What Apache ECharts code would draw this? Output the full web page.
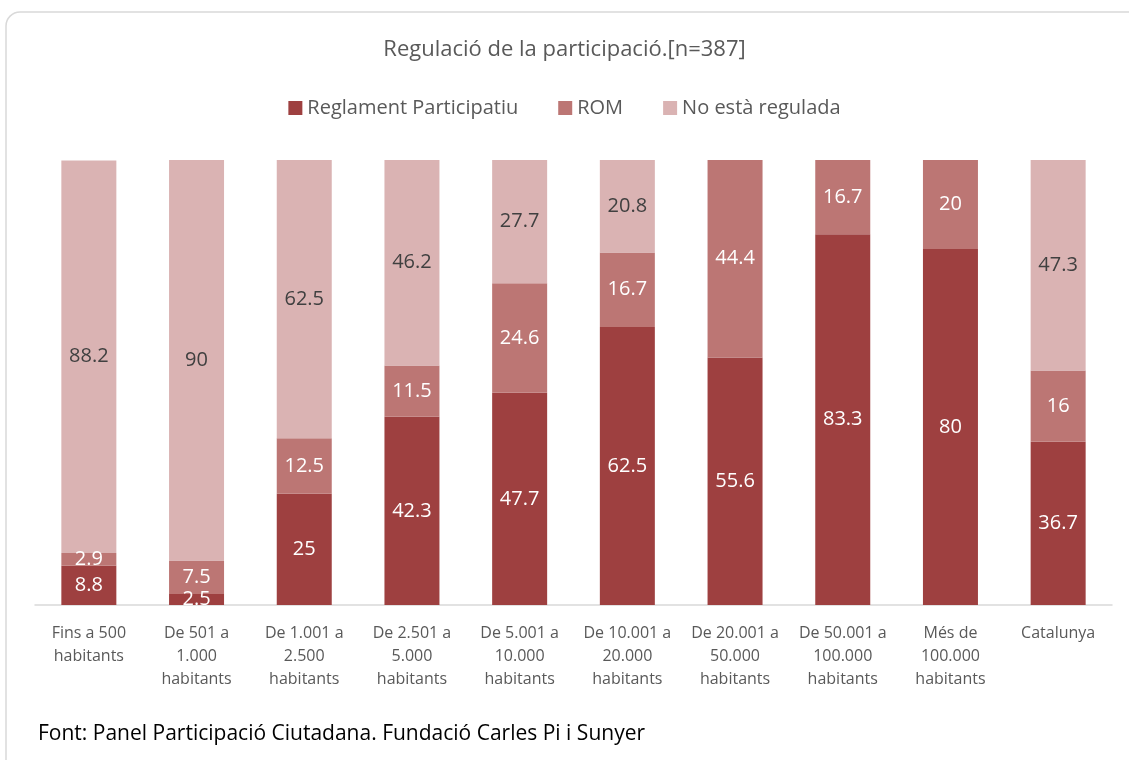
<!DOCTYPE html>
<html>
<head>
<meta charset="utf-8">
<script src="https://cdn.jsdelivr.net/npm/echarts@6/dist/echarts.min.js"></script>
<style>
  html, body { margin: 0; padding: 0; background: #fff; }
  #chart { width: 1129px; height: 760px; }
</style>
</head>
<body>
<div id="chart"></div>
<script>
// dades del gràfic
var categories = [
  'Fins a 500\nhabitants',
  'De 501 a\n1.000\nhabitants',
  'De 1.001 a\n2.500\nhabitants',
  'De 2.501 a\n5.000\nhabitants',
  'De 5.001 a\n10.000\nhabitants',
  'De 10.001 a\n20.000\nhabitants',
  'De 20.001 a\n50.000\nhabitants',
  'De 50.001 a\n100.000\nhabitants',
  'Més de\n100.000\nhabitants',
  'Catalunya'
];
var reglament = [8.8, 2.5, 25, 42.3, 47.7, 62.5, 55.6, 83.3, 80, 36.7];
var rom = [2.9, 7.5, 12.5, 11.5, 24.6, 16.7, 44.4, 16.7, 20, 16];
var noRegulada = [88.2, 90, 62.5, 46.2, 27.7, 20.8, null, null, null, 47.3];

var fontFam = '"Open Sans", "Noto Sans", sans-serif';

var chart = echarts.init(document.getElementById('chart'));

function serie(name, data, color, labelColor) {
  return {
    name: name,
    type: 'bar',
    stack: 'total',
    barWidth: 55,
    data: data,
    itemStyle: { color: color },
    label: {
      show: true,
      position: 'inside',
      color: labelColor,
      fontFamily: fontFam,
      fontSize: 20
    }
  };
}

var option = {
  animation: false,
  title: {
    text: 'Regulació de la participació.[n=387]',
    left: 'center',
    top: 34,
    textStyle: { color: '#595959', fontSize: 22, fontWeight: 'normal', fontFamily: fontFam }
  },
  legend: {
    top: 93,
    left: 'center',
    itemWidth: 14,
    itemHeight: 14,
    itemGap: 40,
    icon: 'rect',
    textStyle: { color: '#595959', fontSize: 20, fontFamily: fontFam },
    data: ['Reglament Participatiu', 'ROM', 'No està regulada']
  },
  grid: { left: 35, right: 17, top: 160, bottom: 155 },
  xAxis: {
    type: 'category',
    data: categories,
    axisLine: { lineStyle: { color: '#d9d9d9', width: 1.5 } },
    axisTick: { show: false },
    axisLabel: {
      interval: 0,
      margin: 17,
      color: '#595959',
      fontSize: 16,
      lineHeight: 23,
      fontFamily: fontFam
    }
  },
  yAxis: {
    type: 'value',
    min: 0,
    max: 100,
    show: false
  },
  graphic: [
    {
      type: 'rect',
      shape: { x: 6, y: 12, width: 1140, height: 780, r: 14 },
      style: { fill: null, stroke: '#d9d9d9', lineWidth: 1.5 },
      silent: true
    },
    {
      type: 'text',
      left: 38,
      top: 724,
      style: {
        text: 'Font: Panel Participació Ciutadana. Fundació Carles Pi i Sunyer',
        fill: '#000',
        fontSize: 21,
        fontFamily: fontFam
      }
    }
  ],
  series: [
    serie('Reglament Participatiu', reglament, '#9e4040', '#fff'),
    serie('ROM', rom, '#bc7674', '#fff'),
    serie('No està regulada', noRegulada, '#dab3b3', '#404040')
  ]
};

chart.setOption(option);
window.addEventListener('resize', function () {
  chart.resize();
});
</script>
</body>
</html>
